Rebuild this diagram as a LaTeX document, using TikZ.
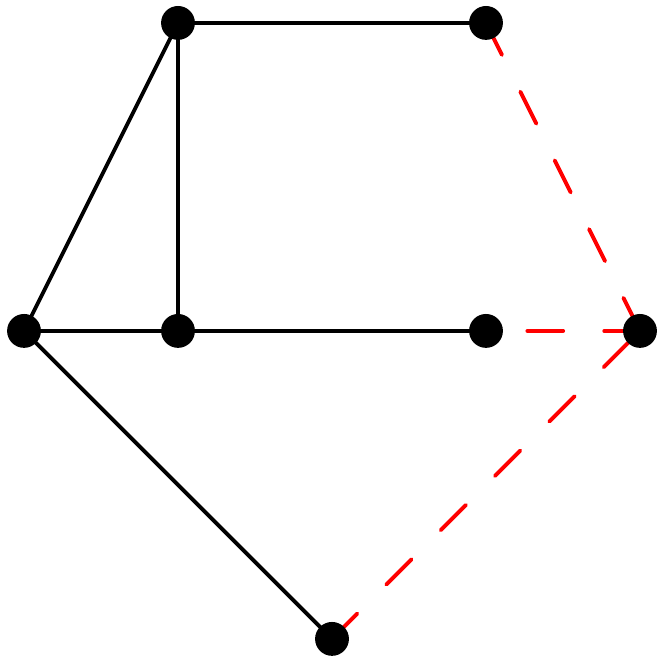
\documentclass[tikz,border=0pt]{standalone}
\usetikzlibrary{backgrounds}
\tikzset{
    dot/.style={circle, fill=black, inner sep=0pt, minimum size=0.44cm},
    edge/.style={line width=1.4pt},
    cut/.style={red, line width=1.45pt, line cap=round, dash pattern=on 13.2pt off 15.2pt}
}
\begin{document}
\begin{tikzpicture}[x=2cm, y=2cm]
    \useasboundingbox (-0.156,-2.162) rectangle (4.156,2.149);
    \node[dot] (topl) at (1,2) {};
    \node[dot] (topr) at (3,2) {};
    \node[dot] (left) at (0,0) {};
    \node[dot] (mid) at (1,0) {};
    \node[dot] (right) at (3,0) {};
    \node[dot] (far) at (4,0) {};
    \node[dot] (low) at (2,-2) {};
    \begin{pgfonlayer}{background}
        \draw[edge] (topl.center) -- (topr.center);
        \draw[edge] (topl.center) -- (left.center);
        \draw[edge] (topl.center) -- (mid.center);
        \draw[edge] (left.center) -- (mid.center) -- (right.center);
        \draw[edge] (left.center) -- (low.center);
        \draw[cut] (topr.center) -- (far.center);
        \draw[cut] (far.center) -- (right.center);
        \draw[cut] (low.center) -- (far.center);
    \end{pgfonlayer}
\end{tikzpicture}
\end{document}
